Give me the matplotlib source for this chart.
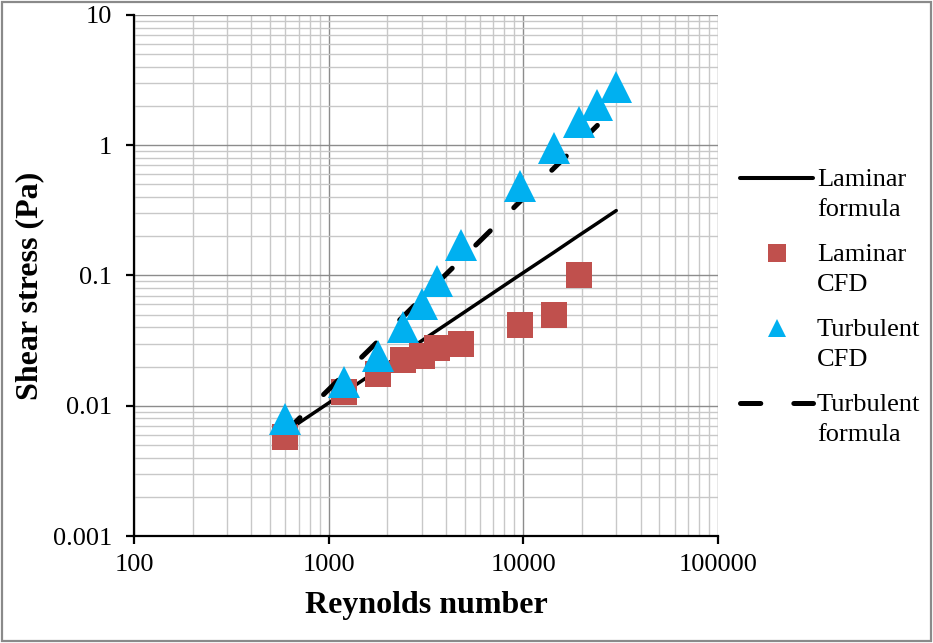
import matplotlib
matplotlib.use('Agg')
import matplotlib.pyplot as plt
from matplotlib.patches import Rectangle
from matplotlib.ticker import LogLocator, NullFormatter, FixedLocator, FixedFormatter
import numpy as np

plt.rcParams['font.family'] = ['Liberation Serif', 'DejaVu Serif']
plt.rcParams['lines.scale_dashes'] = False

# Reynolds numbers of the simulated cases
reynolds = [600, 1200, 1800, 2400, 3000, 3600, 4800, 9600, 14400, 19200, 24000, 30000]

laminar_formula = [0.0063, 0.0126, 0.0189, 0.0252, 0.0315, 0.0378, 0.0504, 0.101, 0.151, 0.202, 0.252, 0.315]
laminar_cfd = [0.0058, 0.0127, 0.0176, 0.0226, 0.0243, 0.0279, 0.0296, 0.0416, 0.0499, 0.101]
turbulent_cfd = [0.0079, 0.0152, 0.0243, 0.040, 0.060, 0.091, 0.172, 0.484, 0.96, 1.50, 2.02, 2.80]
turbulent_formula = [0.0063, 0.0174, 0.0315, 0.048, 0.0668, 0.0873, 0.133, 0.369, 0.67, 1.02, 1.42]

x_ticks = [100, 1000, 10000, 100000]
x_tick_labels = ['100', '1000', '10000', '100000']
y_ticks = [0.001, 0.01, 0.1, 1, 10]
y_tick_labels = ['0.001', '0.01', '0.1', '1', '10']

fig = plt.figure(figsize=(9.33, 6.43), dpi=100)
ax = fig.add_axes([0.1436, 0.1664, 0.6260, 0.8103])
ax.set_xscale('log')
ax.set_yscale('log')

ax.plot(reynolds, laminar_formula, color='black', linewidth=2.5, solid_capstyle='round',
        label='Laminar\nformula', zorder=3)
ax.plot(reynolds[:len(laminar_cfd)], laminar_cfd, linestyle='none', marker='s', markersize=18.5,
        color='#C0504D', markeredgewidth=0, label='Laminar\nCFD', zorder=4)
ax.plot(reynolds, turbulent_cfd, linestyle='none', marker='^', markersize=23,
        color='#00B0F0', markeredgewidth=0, label='Turbulent\nCFD', zorder=6)
ax.plot(reynolds[:len(turbulent_formula)], turbulent_formula, color='black', linewidth=3.6,
        dashes=(14.6, 23.8), dash_capstyle='round', label='Turbulent\nformula', zorder=5)

ax.set_xlim(100, 100000)
ax.set_ylim(0.001, 10)

ax.xaxis.set_major_locator(FixedLocator(x_ticks))
ax.xaxis.set_major_formatter(FixedFormatter(x_tick_labels))
ax.yaxis.set_major_locator(FixedLocator(y_ticks))
ax.yaxis.set_major_formatter(FixedFormatter(y_tick_labels))
ax.xaxis.set_minor_locator(LogLocator(base=10, subs=np.arange(2, 10), numticks=20))
ax.yaxis.set_minor_locator(LogLocator(base=10, subs=np.arange(2, 10), numticks=20))
ax.xaxis.set_minor_formatter(NullFormatter())
ax.yaxis.set_minor_formatter(NullFormatter())

ax.grid(True, which='major', color='#8c8c8c', linewidth=1.0, zorder=0)
ax.grid(True, which='minor', color='#c8c8c8', linewidth=1.0, zorder=0)
ax.set_axisbelow(True)

for side in ['top', 'right']:
    ax.spines[side].set_visible(False)
for side in ['left', 'bottom']:
    ax.spines[side].set_linewidth(1.6)
    ax.spines[side].set_color('black')

ax.tick_params(which='major', direction='out', length=6, width=1.6, labelsize=19, color='black')
ax.tick_params(axis='x', which='major', pad=7)
ax.tick_params(axis='y', which='major', pad=10)
ax.tick_params(which='minor', length=0)

ax.set_xlabel('Reynolds number', fontsize=23, fontweight='bold')
ax.set_ylabel('Shear stress (Pa)', fontsize=23, fontweight='bold')
ax.xaxis.set_label_coords(0.5, -0.106)
ax.yaxis.set_label_coords(-0.154, 0.48)

leg = ax.legend(loc='upper left', bbox_to_anchor=(740 / 933, 1 - 169 / 643),
                bbox_transform=fig.transFigure, frameon=False, fontsize=19,
                borderpad=0, borderaxespad=0, handlelength=2.77, handletextpad=0.15,
                labelspacing=0.89)
for t in leg.get_texts():
    t.set_linespacing(1.45)
# put each handle beside the first line of its two-line label
shift = 11.6
for h, ms in zip(leg.legend_handles, [None, 13, 12.5, None]):
    h.set_ydata(np.asarray(h.get_ydata(), dtype=float) + shift)
    if ms is not None:
        h.set_markersize(ms)
leg.legend_handles[0].set_linewidth(2.9)

fig.patches.append(Rectangle((0.0025, 0.003), 0.995, 0.994, transform=fig.transFigure,
                             fill=False, edgecolor='#8a8a8a', linewidth=1.6))

fig.savefig('out.png', dpi=100)
